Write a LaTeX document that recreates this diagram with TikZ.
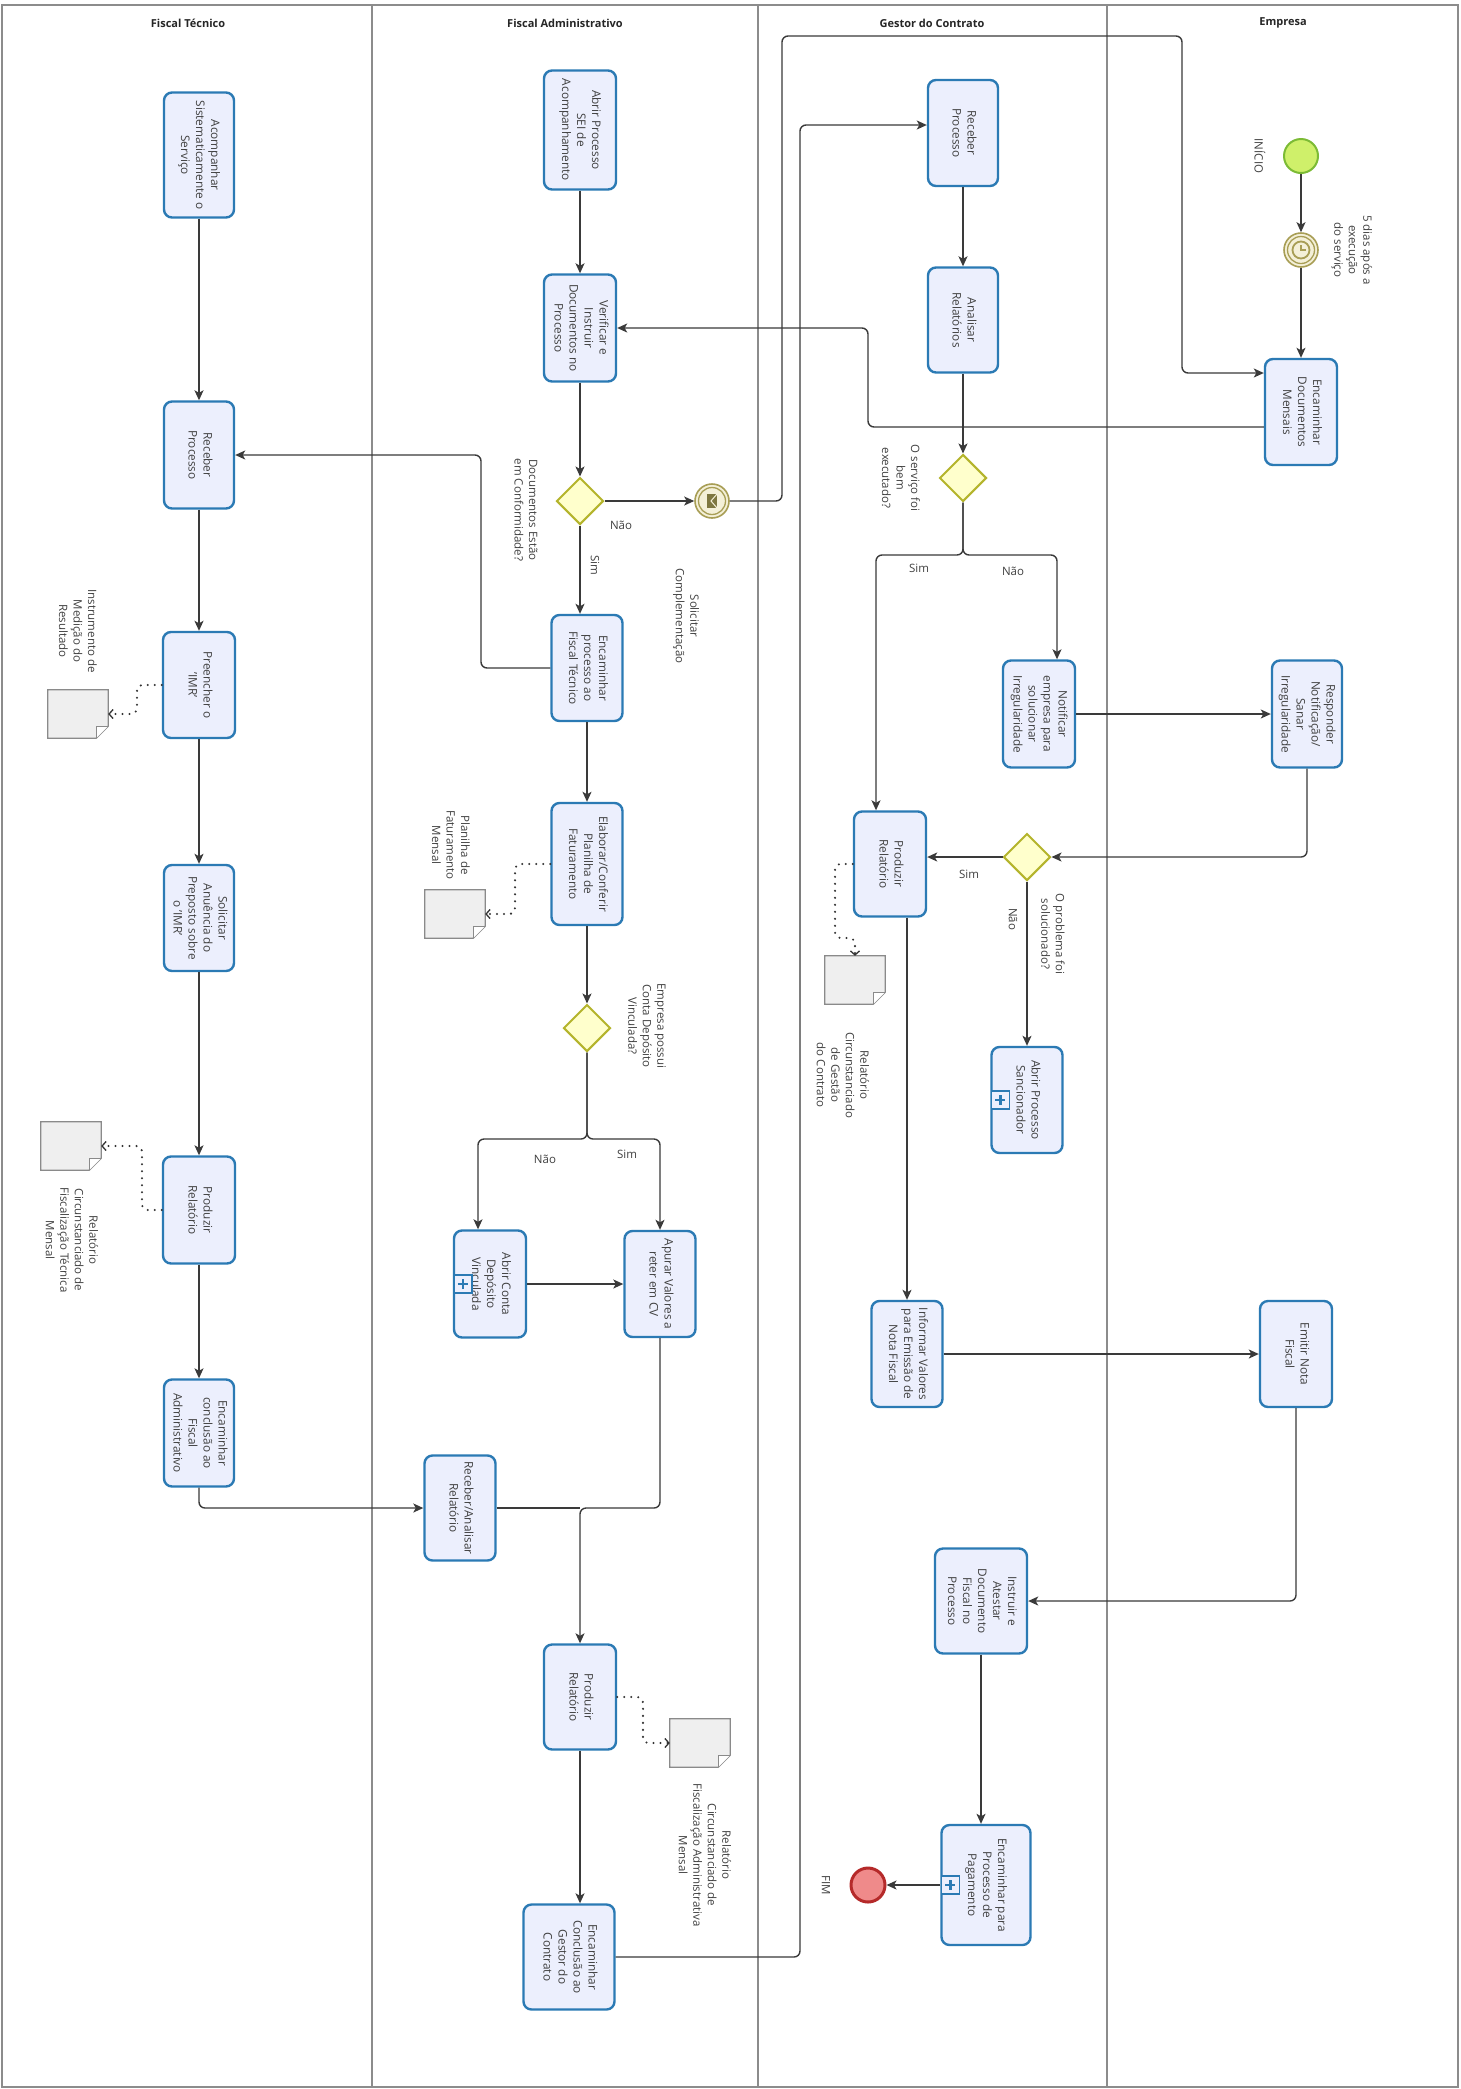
\documentclass[tikz,border=0pt]{standalone}
\usepackage{fontspec}
\setmainfont{Open Sans}
\usepackage{graphicx}
\usetikzlibrary{arrows.meta,calc,shapes.geometric}
\definecolor{taskfill}{HTML}{ECEFFD}
\definecolor{taskline}{HTML}{2B7AB4}
\definecolor{gatefill}{HTML}{FFFFCC}
\definecolor{gateline}{HTML}{B4B42C}
\definecolor{evfill}{HTML}{F4F0D8}
\definecolor{evline}{HTML}{A89E55}
\definecolor{startfill}{HTML}{CFF06A}
\definecolor{startline}{HTML}{7CBB35}
\definecolor{endfill}{HTML}{EF8A8A}
\definecolor{endline}{HTML}{B52A2A}
\definecolor{docfill}{HTML}{EFEFEF}
\definecolor{docline}{HTML}{8A8A8A}
\definecolor{laneline}{HTML}{8C8C8C}
\definecolor{flowc}{HTML}{3A3A3A}
\definecolor{txt}{HTML}{404040}
\newcommand\bxt[1]{\rotatebox{-90}{\begin{tabular}{@{}c@{}}#1\end{tabular}}}
\newcommand\mytask[6]{\node[task, minimum width=#4pt, minimum height=#5pt] (#1) at (#2,#3) {\bxt{#6}};}
\newcommand\docobj[3]{\node[docn] (#1) at (#2,#3) {};
  \draw[docline, fill=docfill, line width=1.3pt] (#1.north west) -- (#1.north east) -- ([yshift=12pt]#1.south east) -- ([xshift=-12pt]#1.south east) -- (#1.south west) -- cycle;
  \draw[docline, fill=white, line width=1.3pt] ([xshift=-12pt]#1.south east) -- ([xshift=-12pt,yshift=12pt]#1.south east) -- ([yshift=12pt]#1.south east);}
\newcommand\plusmark[2]{\node[plusm] (#1) at (#2) {};
  \draw[taskline, line width=2.6pt] ([xshift=-5pt]#1.center) -- ([xshift=5pt]#1.center) ([yshift=-5pt]#1.center) -- ([yshift=5pt]#1.center);}
\begin{document}
\begin{tikzpicture}[x=1pt,y=-1pt,
  task/.style={rectangle, rounded corners=8pt, draw=taskline, line width=2.4pt, fill=taskfill, inner sep=0pt, text=txt, font=\fontsize{11.8}{15}\selectfont},
  gate/.style={diamond, draw=gateline, fill=gatefill, line width=2pt, minimum width=47pt, minimum height=47pt, inner sep=0pt},
  ev/.style={circle, draw=evline, fill=evfill, line width=1.6pt, minimum size=34pt, inner sep=0pt},
  startev/.style={circle, draw=startline, fill=startfill, line width=2pt, minimum size=34pt, inner sep=0pt},
  endev/.style={circle, draw=endline, fill=endfill, line width=3pt, minimum size=34pt, inner sep=0pt},
  docn/.style={rectangle, minimum width=60pt, minimum height=48pt, inner sep=0pt},
  plusm/.style={rectangle, draw=taskline, fill=taskfill, line width=1.6pt, minimum width=18pt, minimum height=18pt, inner sep=0pt},
  hdr/.style={font=\fontsize{11}{13}\selectfont\bfseries, text=black!85},
  lbl/.style={text=black!75, font=\fontsize{11.5}{14.5}\selectfont, align=center, inner sep=1pt},
  rl/.style={lbl, rotate=-90},
  flow/.style={draw=flowc, line width=1.4pt, rounded corners=6pt, -{Stealth[length=10pt,width=9pt,inset=2.5pt]}},
  plainflow/.style={draw=flowc, line width=1.4pt, rounded corners=6pt},
  assoc/.style={draw=black!80, line width=2.3pt, line cap=round, dash pattern=on 0pt off 7pt, rounded corners=6pt, -{Straight Barb[length=4pt,width=9pt,line width=1.3pt]}},
  lane/.style={draw=laneline, line width=1.5pt}
]
\useasboundingbox (0,0) rectangle (1460,2089);
\fill[white] (0,0) rectangle (1460,2089);
% lanes
\draw[lane] (2,5) rectangle (1458,2087);
\draw[lane] (372,5) -- (372,2087);
\draw[lane] (758,5) -- (758,2087);
\draw[lane] (1107,5) -- (1107,2087);
\node[hdr] (h1) at (188,23) {Fiscal Técnico};
\node[hdr] (h2) at (565,23) {Fiscal Administrativo};
\node[hdr] (h3) at (932,23) {Gestor do Contrato};
\node[hdr] (h4) at (1283,23) {Empresa};

% Fiscal Tecnico
\mytask{acomp}{199}{155}{70}{125}{Acompanhar\\Sistematicamente o\\Serviço}
\mytask{recFT}{199}{455}{70}{107}{Receber\\Processo}
\mytask{preen}{199}{685}{72}{106}{Preencher o\\'IMR'}
\mytask{solic}{199}{918}{70}{106}{Solicitar\\Anuência do\\Preposto sobre\\o 'IMR'}
\mytask{prodFT}{199}{1210}{72}{107}{Produzir\\Relatório}
\mytask{encFT}{199}{1433}{70}{107}{Encaminhar\\conclusão ao\\Fiscal\\Administrativo}

% Fiscal Administrativo
\mytask{abrirSEI}{580}{130}{72}{119}{Abrir Processo\\SEI de\\Acompanhamento}
\mytask{verif}{580}{328}{72}{107}{Verificar e\\Instruir\\Documentos no\\Processo}
\node[gate] (gw1) at (580,501) {};
\node[ev] (msg) at (712,501) {};
\draw[evline, line width=1.3pt] (msg.center) circle (13.5pt);
\fill[evline!75!black] ($(msg.center)+(-5,-7)$) rectangle ($(msg.center)+(5,7)$);
\draw[evfill, line width=1pt] ($(msg.center)+(5,-7)$) -- ($(msg.center)+(-1,0)$) -- ($(msg.center)+(5,7)$);
\mytask{encFA}{587}{668}{71}{106}{Encaminhar\\processo ao\\Fiscal Técnico}
\mytask{elab}{587}{864}{71}{122}{Elaborar/Conferir\\Planilha de\\Faturamento}
\node[gate] (gw2) at (587,1028) {};
\mytask{abrirCV}{490}{1284}{72}{107}{Abrir Conta\\Depósito\\Vinculada}
\plusmark{pm1}{[xshift=10pt]abrirCV.west}
\mytask{apurar}{660}{1284}{71}{106}{Apurar Valores a\\reter em CV}
\mytask{recAn}{460}{1508}{71}{105}{Receber/Analisar\\Relatório}
\mytask{prodFA}{580}{1697}{72}{105}{Produzir\\Relatório}
\mytask{encGC}{569}{1957}{91}{105}{Encaminhar\\Conclusão ao\\Gestor do\\Contrato}

% Gestor do Contrato
\mytask{recGC}{963}{133}{70}{106}{Receber\\Processo}
\mytask{anal}{963}{320}{70}{105}{Analisar\\Relatórios}
\node[gate] (gw3) at (963,478) {};
\mytask{notif}{1039}{714}{72}{107}{Notificar\\empresa para\\solucionar\\Irregularidade}
\mytask{prodGC}{890}{864}{72}{105}{Produzir\\Relatório}
\node[gate] (gw4) at (1027,857) {};
\mytask{sanc}{1027}{1100}{71}{106}{Abrir Processo\\Sancionador}
\plusmark{pm2}{[xshift=10pt]sanc.west}
\mytask{inform}{907}{1354}{71}{106}{Informar Valores\\para Emissão de\\Nota Fiscal}
\mytask{instr}{981}{1601}{92}{105}{Instruir e\\Atestar\\Documento\\Fiscal no\\Processo}
\mytask{encPag}{986}{1885}{89}{120}{Encaminhar para\\Processo de\\Pagamento}
\plusmark{pm3}{[xshift=10pt]encPag.west}
\node[endev] (endE) at (868,1885) {};

% Empresa
\node[startev] (startE) at (1301,156) {};
\node[ev] (timer) at (1301,250) {};
\draw[evline, line width=1.3pt] (timer.center) circle (13.5pt);
\draw[evline, line width=1.8pt] (timer.center) circle (8.5pt);
\draw[evline, line width=1.4pt] ($(timer.center)+(0,-5)$) -- (timer.center) -- ($(timer.center)+(5,0)$);
\mytask{encDoc}{1301}{412}{72}{106}{Encaminhar\\Documentos\\Mensais}
\mytask{resp}{1307}{714}{70}{107}{Responder\\Notificação/\\Sanar\\Irregularidade}
\mytask{emitir}{1296}{1354}{72}{106}{Emitir Nota\\Fiscal}

% data objects
\docobj{docIMR}{78}{714}
\docobj{docPlan}{455}{914}
\docobj{docFT}{71}{1146}
\docobj{docGC}{855}{980}
\docobj{docFA}{700}{1743}

% labels
\node[rl] (lIMR) at (78,631) {Instrumento de\\Medição do\\Resultado};
\node[rl] (lPlan) at (451,845) {Planilha de\\Faturamento\\Mensal};
\node[rl] (lFT) at (72,1240) {Relatório\\Circunstanciado de\\Fiscalização Técnica\\Mensal};
\node[rl] (lGC) at (843,1075) {Relatório\\Circunstanciado\\de Gestão\\do Contrato};
\node[rl] (lFA) at (705,1855) {Relatório\\Circunstanciado de\\Fiscalização Administrativa\\Mensal};
\node[rl] (lgw1) at (526,510) {Documentos Estão\\em Conformidade?};
\node[rl] (lmsg) at (686,616) {Solicitar\\Complementação};
\node[rl] (lgw2) at (647,1026) {Empresa possui\\Conta Depósito\\Vinculada?};
\node[rl] (lgw3) at (901,478) {O serviço foi\\bem\\executado?};
\node[rl] (lgw4) at (1053,934) {O problema foi\\solucionado?};
\node[rl] (lstart) at (1260,156) {INÍCIO};
\node[rl] (ltimer) at (1352,250) {5 dias após a\\execução\\do serviço};
\node[rl] (lend) at (826,1885) {FIM};
\node[rl] (s1) at (595,565) {Sim};
\node[lbl] (n1) at (621,525) {Não};
\node[lbl] (s3) at (919,568) {Sim};
\node[lbl] (n3) at (1013,571) {Não};
\node[lbl] (s4) at (969,874) {Sim};
\node[rl] (n4) at (1013,919) {Não};
\node[lbl] (n2) at (545,1159) {Não};
\node[lbl] (s2) at (627,1154) {Sim};

% helper coordinates
\coordinate (loopL) at (782,36);
\coordinate (loopR) at (1182,36);
\coordinate (c868) at (868,380);
\coordinate (c481) at (481,560);
\coordinate (split2) at (587,1139);
\coordinate (merge) at (580,1508);
\coordinate (c800) at (800,1000);
\coordinate (split3) at (963,555);
\coordinate (a137) at (137,700);
\coordinate (a515) at (515,890);
\coordinate (a142) at (142,1180);
\coordinate (a835) at (835,900);
\coordinate (a855) at (855,938);
\coordinate (a643) at (643,1720);

% flows Fiscal Tecnico
\draw[flow] (acomp.south) -- (recFT.north);
\draw[flow] (recFT.south) -- (preen.north);
\draw[flow] (preen.south) -- (solic.north);
\draw[flow] (solic.south) -- (prodFT.north);
\draw[flow] (prodFT.south) -- (encFT.north);
\draw[flow] (encFT.south) |- (recAn.west);

% flows Fiscal Administrativo
\draw[flow] (abrirSEI.south) -- (verif.north);
\draw[flow] (verif.south) -- (gw1.north);
\draw[flow] (gw1.south) -- (gw1.south |- encFA.north);
\draw[flow] (gw1.east) -- (msg.west);
\draw[flow] (msg.east) -| (loopL) -- (loopR) |- ([yshift=39pt]encDoc.west);
\draw[flow] ([yshift=-15pt]encDoc.west) -| (c868) |- (verif.east);
\draw[flow] (encFA.west) -| (c481) |- (recFT.east);
\draw[flow] (encFA.south) -- (elab.north);
\draw[flow] (elab.south) -- (gw2.north);
\draw[flow] (gw2.south) -- (split2) -| ([xshift=-12pt]abrirCV.north);
\draw[flow] (gw2.south) -- (split2) -| (apurar.north);
\draw[flow] (abrirCV.east) -- (abrirCV.east -| apurar.west);
\draw[flow] (apurar.south) |- (merge) -- (prodFA.north);
\draw[plainflow] (recAn.east) -- (merge);
\draw[flow] (prodFA.south) -- (prodFA.south |- encGC.north);
\draw[flow] (encGC.east) -| (c800) |- ([yshift=8pt]recGC.west);

% flows Gestor
\draw[flow] (recGC.south) -- (anal.north);
\draw[flow] (anal.south) -- (gw3.north);
\draw[flow] (gw3.south) -- (split3) -| ([xshift=-14pt]prodGC.north);
\draw[flow] (gw3.south) -- (split3) -| ([xshift=18pt]notif.north);
\draw[flow] (notif.east) -- (resp.west);
\draw[flow] (resp.south) |- (gw4.east);
\draw[flow] (gw4.west) -- (gw4.west -| prodGC.east);
\draw[flow] (gw4.south) -- (sanc.north);
\draw[flow] (prodGC.south -| inform.north) -- (inform.north);
\draw[flow] (inform.east) -- (emitir.west);
\draw[flow] (emitir.south) |- (instr.east);
\draw[flow] (instr.south) -- (instr.south |- encPag.north);
\draw[flow] (encPag.west) -- (endE.east);

% flows Empresa
\draw[flow] (startE.south) -- (timer.north);
\draw[flow] (timer.south) -- (encDoc.north);

% associations
\draw[assoc] (preen.west) -| (a137) |- (docIMR.east);
\draw[assoc] (elab.west) -| (a515) |- (docPlan.east);
\draw[assoc] (prodFT.west) -| (a142) |- (docFT.east);
\draw[assoc] (prodGC.west) -| (a835) |- (a855) -- (docGC.north);
\draw[assoc] (prodFA.east) -| (a643) |- (docFA.west);
\end{tikzpicture}
\end{document}
